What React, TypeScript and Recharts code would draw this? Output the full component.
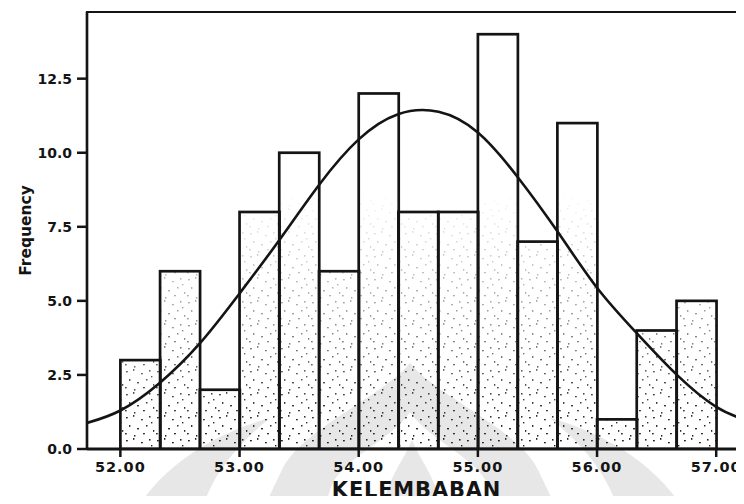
import React from "react";
import { Bar, ComposedChart, Line, ReferenceArea, XAxis, YAxis } from "recharts";

// histogram bins: lower edge of each 1/3-wide bin and its frequency
const binStarts = [52.0, 52.333, 52.667, 53.0, 53.333, 53.667, 54.0, 54.333, 54.667, 55.0, 55.333, 55.667, 56.0, 56.333, 56.667];
const counts = [3, 6, 2, 8, 10, 6, 12, 8, 8, 14, 7, 11, 1, 4, 5];
const BIN_WIDTH = 1 / 3;

// normal curve drawn over the histogram, sampled along the axis
const curveX = [51.72, 52.0, 52.33, 52.67, 53.0, 53.33, 53.67, 54.0, 54.33, 54.67, 55.0, 55.33, 55.67, 56.0, 56.33, 56.67, 57.0, 57.25];
const curveY = [0.88, 1.3, 2.23, 3.58, 5.25, 7.03, 8.93, 10.45, 11.3, 11.38, 10.68, 9.2, 7.33, 5.44, 3.92, 2.5, 1.42, 0.98];

const xTicks = [52, 53, 54, 55, 56, 57];
const yTicks = [0, 2.5, 5, 7.5, 10, 12.5];

const X_DOMAIN: [number, number] = [51.72, 57.25];
const Y_DOMAIN: [number, number] = [0, 14.75];

const WIDTH = 748;
const HEIGHT = 504;
const INK = "#141414";
const FONT = "'DejaVu Sans', 'Liberation Sans', sans-serif";

const bins = binStarts.map((start, i) => ({ mid: start + BIN_WIDTH / 2, count: counts[i] }));
const curve = curveX.map((x, i) => ({ x, y: curveY[i] }));

// speckles for the bar fill, one tile's worth
const specks = [
  [2, 3, 1.8, 1.4], [9, 1, 1.4, 1.8], [17, 5, 1.8, 1.3], [25, 2, 1.5, 1.6],
  [5, 11, 1.4, 1.9], [13, 14, 2, 1.4], [22, 11, 1.5, 1.5], [29, 16, 1.3, 1.8],
  [1, 19, 1.7, 1.4], [10, 21, 1.4, 1.6], [19, 19, 1.9, 1.3], [27, 8, 1.4, 1.4],
];

// bar with a speckled fill that thins out towards the top
function StippledBar(props: any) {
  const { x, y, width, height } = props;
  if (!height) return null;
  return (
    <g>
      <rect x={x} y={y} width={width} height={height} fill="url(#stipple)" mask="url(#stippleFade)" />
      <rect x={x} y={y} width={width} height={height} fill="none" stroke={INK} strokeWidth={2.7} />
    </g>
  );
}

// faint emblem printed behind the plot
function Emblem() {
  return (
    <svg width={744} height={504} style={{ position: "absolute", left: 0, top: 0 }}>
      <g fill="#e7e7e7">
        <path d="M410,363 C385,395 300,430 282,470 C272,490 268,500 266,504 L554,504 C552,500 548,490 538,470 C520,430 435,395 410,363 Z" />
        <path d="M140,504 C168,462 218,432 270,418 C240,442 214,472 204,504 Z" />
        <path d="M680,504 C652,462 602,432 550,418 C580,442 606,472 616,504 Z" />
      </g>
      <path d="M410,412 C392,440 338,460 330,490 L326,504 L494,504 L490,490 C482,460 428,440 410,412 Z" fill="#fff" />
      <path d="M412,440 C404,460 388,478 384,504 L440,504 C436,478 420,460 412,440 Z" fill="#e7e7e7" />
    </svg>
  );
}

const tickStyle = { fill: INK, fontSize: 14, fontWeight: 700, fontFamily: FONT };

export default function App() {
  return (
    <div style={{ position: "relative", width: 744, height: 504, margin: -8, overflow: "hidden", background: "#fff" }}>
      <Emblem />
      <div style={{ position: "absolute", left: 0, top: 0 }}>
        <ComposedChart width={WIDTH} height={HEIGHT} data={bins} margin={{ top: 12, right: 2, bottom: 0, left: 0 }} barCategoryGap={0} barGap={0}>
          <defs>
            <pattern id="stipple" width="31" height="23" patternUnits="userSpaceOnUse">
              {specks.map(([sx, sy, w, h], i) => (
                <rect key={i} x={sx} y={sy} width={w} height={h} fill="#1a1a1a" />
              ))}
            </pattern>
            <linearGradient id="fadeGrad" gradientUnits="userSpaceOnUse" x1="0" y1="449" x2="0" y2="190">
              <stop offset="0" stopColor="#fff" stopOpacity={1} />
              <stop offset="0.18" stopColor="#fff" stopOpacity={0.85} />
              <stop offset="0.5" stopColor="#fff" stopOpacity={0.45} />
              <stop offset="1" stopColor="#fff" stopOpacity={0} />
            </linearGradient>
            <mask id="stippleFade" maskUnits="userSpaceOnUse" x="0" y="0" width={WIDTH} height={HEIGHT}>
              <rect x="0" y="0" width={WIDTH} height={HEIGHT} fill="url(#fadeGrad)" />
            </mask>
          </defs>
          <XAxis
            dataKey="mid"
            type="number"
            domain={X_DOMAIN}
            allowDataOverflow
            ticks={xTicks}
            tickFormatter={(v: number) => v.toFixed(2)}
            tick={{ ...tickStyle, fontSize: 14.5, letterSpacing: 1 }}
            tickSize={8}
            tickMargin={5}
            tickLine={{ stroke: INK, strokeWidth: 2.5 }}
            axisLine={{ stroke: INK, strokeWidth: 3 }}
            height={55}
            label={{ value: "KELEMBABAN", position: "insideBottom", offset: 7, fill: INK, fontSize: 21, fontWeight: 700, fontFamily: FONT, letterSpacing: 0.8 }}
          />
          <XAxis xAxisId="curve" dataKey="x" type="number" domain={X_DOMAIN} allowDataOverflow hide />
          <YAxis
            type="number"
            domain={Y_DOMAIN}
            allowDataOverflow
            ticks={yTicks}
            tickFormatter={(v: number) => v.toFixed(1)}
            tick={tickStyle}
            tickSize={10}
            tickMargin={5}
            tickLine={{ stroke: INK, strokeWidth: 2.5 }}
            axisLine={{ stroke: INK, strokeWidth: 2.5 }}
            width={87}
            label={{ value: "Frequency", angle: -90, position: "insideLeft", offset: 25, fill: INK, fontSize: 15.5, fontWeight: 700, fontFamily: FONT, style: { textAnchor: "middle" } }}
          />
          <ReferenceArea x1={X_DOMAIN[0]} x2={X_DOMAIN[1]} y1={Y_DOMAIN[0]} y2={Y_DOMAIN[1]} fill="none" stroke={INK} strokeWidth={2.2} ifOverflow="visible" />
          <Bar dataKey="count" shape={<StippledBar />} isAnimationActive={false} />
          <Line xAxisId="curve" data={curve} dataKey="y" type="natural" stroke={INK} strokeWidth={2.6} dot={false} activeDot={false} isAnimationActive={false} />
        </ComposedChart>
      </div>
    </div>
  );
}
